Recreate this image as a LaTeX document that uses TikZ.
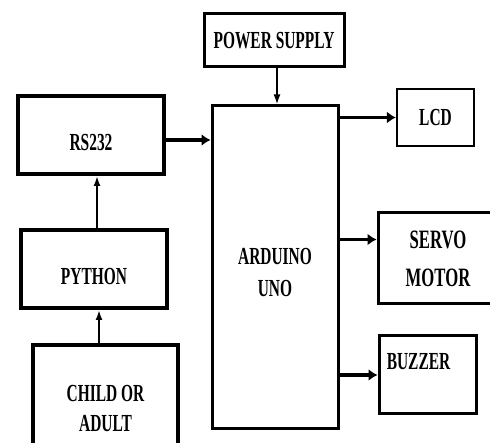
\documentclass[tikz,border=0pt]{standalone}
\usepackage{fontspec}
\newfontfamily\blockfont[FakeStretch=0.63]{Liberation Serif}
\usepackage{tikz}
\usetikzlibrary{arrows.meta,positioning}
\tikzset{
  blk/.style={draw, rectangle, align=center, inner sep=0pt, line width=3pt,
    font=\blockfont\bfseries\fontsize{24.5}{32}\selectfont},
  arr/.style={-{Latex[length=9pt,width=12pt]}, line width=3.5pt},
  thinarr/.style={-{Latex[length=10pt,width=7pt]}, line width=1.8pt}
}

\begin{document}
\begin{tikzpicture}[x=1pt, y=-1pt]
\useasboundingbox (0,0) rectangle (490,443);
\clip (0,0) rectangle (490,443);

% middle column
\node[blk, minimum width=140pt, minimum height=53pt] (power) at (274,40.5) {POWER SUPPLY};
\node[blk, minimum width=126pt, minimum height=323pt, text height=58pt, text depth=0pt] (arduino) at (275,267.5) {ARDUINO\\UNO};

% left column
\node[blk, line width=4pt, minimum width=146pt, minimum height=78pt, text height=32pt, text depth=0pt] (rs232) at (91,135) {RS232};
\node[blk, line width=4pt, minimum width=146pt, minimum height=78pt, text height=32pt, text depth=0pt] (python) at (94,269) {PYTHON};
\node[blk, line width=4pt, minimum width=145pt, minimum height=128pt] (child) at (105.5,409) {CHILD OR\\[-2pt]ADULT};

% right column
\node[blk, line width=2.2pt, minimum width=77pt, minimum height=57pt] (lcd) at (435.5,117.5) {LCD};
\node[blk, minimum width=142pt, minimum height=91pt, font=\blockfont\bfseries\fontsize{26.5}{38}\selectfont] (servo) at (449,258.5) {SERVO\hspace*{22pt}\\MOTOR\hspace*{22pt}};
\node[blk, minimum width=97pt, minimum height=78pt, text depth=27pt] (buzzer) at (427.5,375) {BUZZER\hspace*{18pt}};

% connections
\draw[thinarr] ([xshift=3pt]power.south) -- ([xshift=3pt]power.south |- arduino.north);
\draw[arr] ([yshift=-5pt]rs232.east) -- ([yshift=-5pt]rs232.east -| arduino.west);
\draw[arr] (lcd.west -| arduino.east) -- (lcd.west);
\draw[arr] ([yshift=19pt]servo.west -| arduino.east) -- ([yshift=19pt]servo.west);
\draw[arr] (buzzer.west -| arduino.east) -- (buzzer.west);
\draw[thinarr] ([xshift=3pt]python.north) -- ([xshift=3pt]python.north |- rs232.south);
\draw[thinarr] ([xshift=5pt]python.south |- child.north) -- ([xshift=5pt]python.south);
\end{tikzpicture}
\end{document}
